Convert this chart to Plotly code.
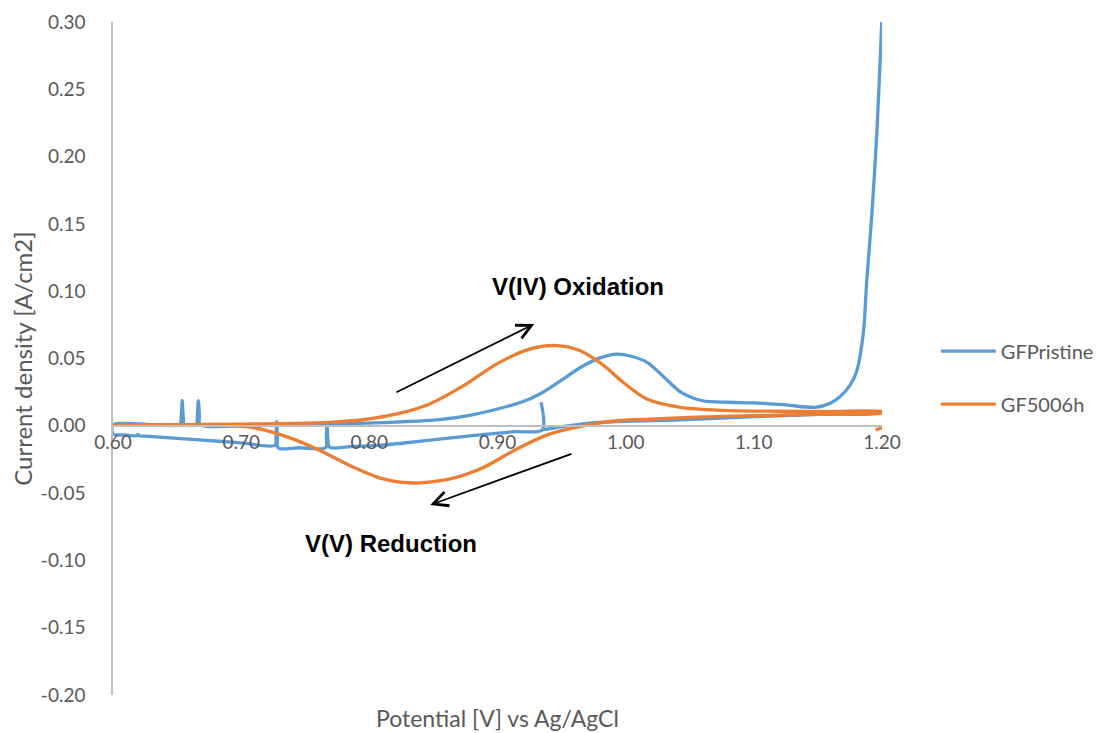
import plotly.graph_objects as go

# ---------------- data ----------------
# GFPristine: starts at spike top near 0.934, lower branch to 0.60, upper branch to 1.20, lower branch back
pristine_x = [0.934, 0.935, 0.913, 0.886, 0.860, 0.835, 0.808, 0.785, 0.769,
              0.7675, 0.767, 0.7665, 0.766, 0.745, 0.729, 0.7282, 0.7277, 0.7272, 0.7265,
              0.700, 0.680, 0.650, 0.625, 0.6205, 0.6195, 0.6185, 0.610, 0.600,
              0.600, 0.630, 0.652, 0.6533, 0.654, 0.6547, 0.656, 0.665, 0.6658, 0.6666, 0.6674, 0.668,
              0.720, 0.770, 0.820, 0.847, 0.875, 0.900, 0.920, 0.933, 0.950, 0.965, 0.980,
              0.993, 1.005, 1.017, 1.029, 1.043, 1.060, 1.080, 1.100, 1.125, 1.148, 1.160,
              1.168, 1.175, 1.180, 1.1855, 1.188, 1.192, 1.196, 1.1998, 1.2005,
              1.210, 1.200, 1.150, 1.100, 1.043, 0.990, 0.965, 0.945, 0.936]
pristine_y = [0.0175, -0.0030, -0.0044, -0.0068, -0.0093, -0.0120, -0.0145, -0.0155, -0.0160,
              -0.0080, 0.0013, -0.0080, -0.0162, -0.0163, -0.0165, -0.0080, 0.0030, -0.0080, -0.0145,
              -0.0127, -0.0113, -0.0094, -0.0077, -0.0075, -0.0063, -0.0073, -0.0068, -0.0061,
              0.0008, 0.0009, 0.0010, 0.0080, 0.0186, 0.0080, 0.0010, 0.0010, 0.0080, 0.0186, 0.0080, 0.0010,
              0.0010, 0.0013, 0.0028, 0.0040, 0.0072, 0.0125, 0.0180, 0.0236, 0.0340, 0.0435, 0.0505,
              0.0533, 0.0515, 0.0470, 0.0370, 0.0250, 0.0186, 0.0175, 0.0170, 0.0155, 0.0137, 0.0170,
              0.0224, 0.0300, 0.0397, 0.0695, 0.1066, 0.1560, 0.2180, 0.3000, 0.3200,
              0.0105, 0.0100, 0.0085, 0.0068, 0.0045, 0.0030, 0.0013, -0.0015, -0.0028]

# GF5006h: upper (oxidation) branch 0.60 -> 1.20, lower (reduction) branch back to 0.60, small end piece
gf500_x = [0.600, 0.650, 0.700, 0.740, 0.769, 0.795, 0.8215, 0.847, 0.8735, 0.8995, 0.925,
           0.946, 0.9646, 0.983, 0.998, 1.0166, 1.0427, 1.0817, 1.120, 1.160, 1.200,
           1.200, 1.150, 1.100, 1.050, 1.019, 0.993, 0.967, 0.941, 0.915, 0.889, 0.863,
           0.834, 0.811, 0.785, 0.759, 0.733, 0.707, 0.680, 0.650, 0.600,
           None, 1.195, 1.200]
gf500_y = [0.0006, 0.0008, 0.0012, 0.0018, 0.0026, 0.0045, 0.0088, 0.0162, 0.0298, 0.0460, 0.0570,
           0.0596, 0.0558, 0.0447, 0.0323, 0.0199, 0.0137, 0.0112, 0.0108, 0.0106, 0.0105,
           0.0095, 0.0085, 0.0075, 0.0063, 0.0050, 0.0038, 0.0000, -0.0060, -0.0172, -0.0310, -0.0395,
           -0.0425, -0.0395, -0.0296, -0.0172, -0.0073, -0.0010, 0.0003, 0.0005, 0.0006,
           None, -0.0030, -0.0015]

x_ticks = [0.60, 0.70, 0.80, 0.90, 1.00, 1.10, 1.20]
x_ticktext = ["0.60", "0.70", "0.80", "0.90", "1.00", "1.10", "1.20"]
y_ticks = [-0.20, -0.15, -0.10, -0.05, 0.00, 0.05, 0.10, 0.15, 0.20, 0.25, 0.30]
y_ticktext = ["-0.20", "-0.15", "-0.10", "-0.05", "0.00", "0.05", "0.10", "0.15", "0.20", "0.25", "0.30"]

# annotation arrows (data coordinates)
ox_tail = (0.820, 0.0244)
ox_head = (0.9287, 0.0757)
red_tail = (0.9589, -0.0204)
red_head = (0.8475, -0.0588)
ox_label = (0.963, 0.1037)
red_label = (0.817, -0.0878)

BLUE = "#5B9BD5"
ORANGE = "#ED7D31"
GRAY_TEXT = "#595959"
AXIS = "#BFBFBF"
FONT = "Lato"

fig = go.Figure()
fig.add_trace(go.Scatter(x=pristine_x, y=pristine_y, mode="lines", name="GFPristine",
                         line=dict(color=BLUE, width=3.3, shape="spline", smoothing=0.8),
                         legendgroup="a"))
fig.add_trace(go.Scatter(x=gf500_x, y=gf500_y, mode="lines", name="GF5006h",
                         line=dict(color=ORANGE, width=3.3, shape="spline", smoothing=0.8),
                         legendgroup="b"))

fig.update_layout(
    width=1099, height=733,
    margin=dict(l=113, r=217, t=22, b=38, autoexpand=False),
    plot_bgcolor="white", paper_bgcolor="white",
    font=dict(family=FONT, color=GRAY_TEXT, size=19),
    showlegend=True,
    legend=dict(x=1.07, y=0.54, xanchor="left", yanchor="top",
                font=dict(family=FONT, size=20, color=GRAY_TEXT),
                itemwidth=55,
                tracegroupgap=24, bgcolor="rgba(0,0,0,0)"),
    xaxis=dict(range=[0.6, 1.2], anchor="free", position=0.4,
               tickvals=x_ticks, ticktext=x_ticktext, ticks="",
               showline=True, linecolor=AXIS, linewidth=1.5,
               showgrid=False, zeroline=False,
               tickfont=dict(family=FONT, size=19, color=GRAY_TEXT)),
    yaxis=dict(range=[-0.2, 0.3], tickvals=y_ticks, ticktext=y_ticktext, ticks="",
               showline=True, linecolor=AXIS, linewidth=1.5,
               showgrid=False, zeroline=False, ticklabelstandoff=22,
               tickfont=dict(family=FONT, size=19, color=GRAY_TEXT)),
)

annos = [
    dict(text="Potential [V] vs Ag/AgCl", xref="paper", yref="paper", x=0.5, y=-0.034,
         xanchor="center", yanchor="middle", showarrow=False,
         font=dict(family=FONT, size=23, color=GRAY_TEXT)),
    dict(text="Current density [A/cm2]", xref="paper", yref="paper", x=-0.118, y=0.5,
         xanchor="center", yanchor="middle", showarrow=False, textangle=-90,
         font=dict(family=FONT, size=24, color=GRAY_TEXT)),
    dict(text="<b>V(IV) Oxidation</b>", xref="x", yref="y", x=ox_label[0], y=ox_label[1],
         xanchor="center", yanchor="middle", showarrow=False,
         font=dict(family="Liberation Sans", size=24, color="black")),
    dict(text="<b>V(V) Reduction</b>", xref="x", yref="y", x=red_label[0], y=red_label[1],
         xanchor="center", yanchor="middle", showarrow=False,
         font=dict(family="Liberation Sans", size=24, color="black")),
    dict(x=ox_head[0], y=ox_head[1], ax=ox_tail[0], ay=ox_tail[1],
         xref="x", yref="y", axref="x", ayref="y", text="", showarrow=True,
         arrowhead=5, arrowsize=1.6, arrowwidth=1.8, arrowcolor="black"),
    dict(x=red_head[0], y=red_head[1], ax=red_tail[0], ay=red_tail[1],
         xref="x", yref="y", axref="x", ayref="y", text="", showarrow=True,
         arrowhead=5, arrowsize=1.6, arrowwidth=1.8, arrowcolor="black"),
]
fig.update_layout(annotations=annos)

fig.write_html("out.html")
